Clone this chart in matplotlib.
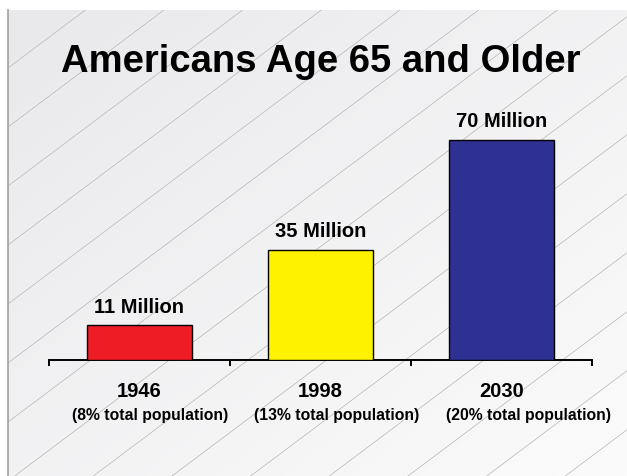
import numpy as np
import matplotlib
matplotlib.use('Agg')
import matplotlib.pyplot as plt
from matplotlib.patches import Rectangle

years = ['1946', '1998', '2030']
shares = ['(8% total population)', '(13% total population)', '(20% total population)']
millions = [11, 35, 70]
bar_colors = ['#ee1c25', '#fff200', '#2e3192']
title = 'Americans Age 65 and Older'

plt.rcParams['font.family'] = ['Liberation Sans', 'DejaVu Sans']
plt.rcParams['font.weight'] = 'bold'

W, H = 627, 476
fig = plt.figure(figsize=(W / 100, H / 100), dpi=100, facecolor='white')

# slide background: soft grey gradient with thin diagonal hatch lines
bg = fig.add_axes([0, 0, 1, 1], zorder=0)
bg.set_xlim(0, W)
bg.set_ylim(H, 0)
bg.axis('off')
px0, py0 = 8, 10
xx, yy = np.meshgrid(np.linspace(0, 1, 200), np.linspace(0, 1, 200))
t = (xx + yy) / 2
c0 = np.array([233, 233, 236]) / 255
c1 = np.array([251, 251, 251]) / 255
grad = c0[None, None, :] * (1 - t[..., None]) + c1[None, None, :] * t[..., None]
bg.imshow(grad, extent=(px0, W, H, py0), aspect='auto', interpolation='bilinear')
panel = Rectangle((px0, py0), W - px0, H - py0, transform=bg.transData,
                  fill=False, lw=0)
bg.add_patch(panel)
slope = 0.75
for k in range(-3, 20):
    c = 127 + 59 * k
    xs = np.array([px0, W + 400])
    ln, = bg.plot(xs, c - slope * (xs - px0), color='#b6b6b6', lw=0.5)
    ln.set_clip_path(panel)
bg.plot([px0, px0], [py0, H], color='#a0a0a0', lw=1.2)

fig.text(321 / W, 1 - 72 / H, title, ha='center', va='baseline',
         fontsize=27.5, fontweight='bold')

ax = fig.add_axes([49 / W, 1 - 360 / H, 543 / W, 260 / H], zorder=1)
ax.patch.set_alpha(0)
x = np.arange(len(years))
bars = ax.bar(x, millions, width=0.575, color=bar_colors,
              edgecolor='black', linewidth=1.0, zorder=3)
ax.set_xlim(-0.5, len(years) - 0.5)
ax.set_ylim(0, 82.7)

for s in ['top', 'right', 'left']:
    ax.spines[s].set_visible(False)
ax.spines['bottom'].set_linewidth(1.4)
ax.set_yticks([])
ax.set_xticks(np.arange(len(years) + 1) - 0.5)
ax.set_xticklabels([])
ax.tick_params(axis='x', length=4, width=1.4, direction='out')

for i, (b, v) in enumerate(zip(bars, millions)):
    ax.annotate(f'{v} Million', xy=(b.get_x() + b.get_width() / 2, v),
                xytext=(0, 9), textcoords='offset points',
                ha='center', va='baseline', fontsize=14.5, fontweight='bold')

sub_shift = [0.06, 0.09, 0.15]
for i, (yr, sh) in enumerate(zip(years, shares)):
    ax.annotate(yr, xy=(i, 0), xycoords=('data', 'axes fraction'),
                xytext=(0, -26.6), textcoords='offset points',
                ha='center', va='baseline', fontsize=14.5, fontweight='bold')
    ax.annotate(sh, xy=(i + sub_shift[i], 0), xycoords=('data', 'axes fraction'),
                xytext=(0, -43.5), textcoords='offset points',
                ha='center', va='baseline', fontsize=11.3, fontweight='bold')

fig.savefig('out.png', dpi=100, facecolor='white')
